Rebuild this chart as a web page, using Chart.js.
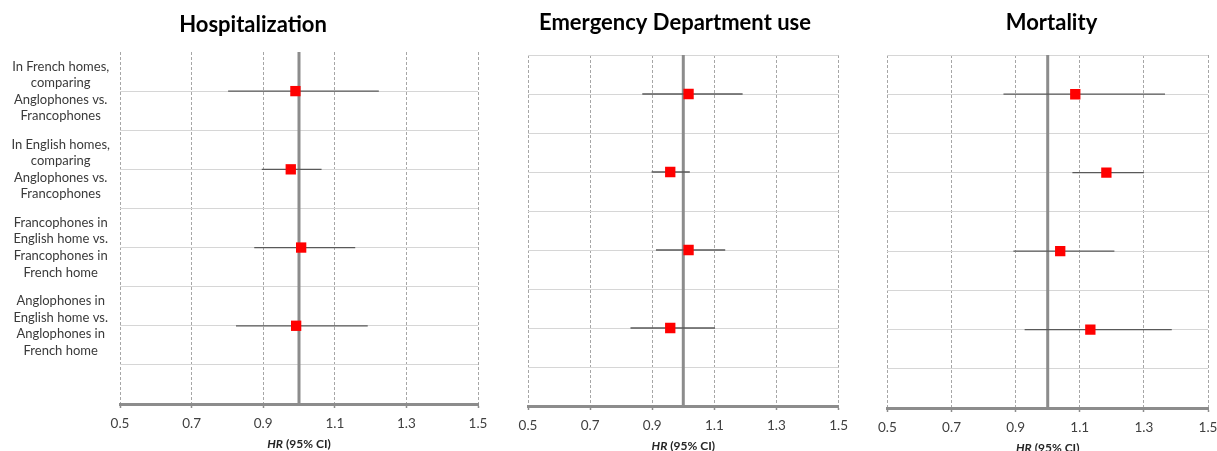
<!DOCTYPE html>
<html lang="en">
<head>
  <meta charset="UTF-8" />
  <title>Forest plots</title>
  <script src="https://cdn.jsdelivr.net/npm/chart.js"></script>
  <style>
    html, body { margin: 0; padding: 0; background: #fff; overflow: hidden; }
    .panel { position: absolute; top: 0; height: 451px; }
  </style>
</head>
<body>
  <div class="panel" id="p1" style="left:0px;width:506px;"><canvas id="chartHosp"></canvas></div>
  <div class="panel" id="p2" style="left:494px;width:362px;"><canvas id="chartED"></canvas></div>
  <div class="panel" id="p3" style="left:870px;width:363px;"><canvas id="chartMort"></canvas></div>

<script>
  // rows of the plot (y positions on a 0..9 scale, top to bottom)
  var rowPos = [1, 3, 5, 7];
  var comparisons = [
    ['In French homes,', 'comparing', 'Anglophones vs.', 'Francophones'],
    ['In English homes,', 'comparing', 'Anglophones vs.', 'Francophones'],
    ['Francophones in', 'English home vs.', 'Francophones in', 'French home'],
    ['Anglophones in', 'English home vs.', 'Anglophones in', 'French home']
  ];

  // hazard ratios and 95% CI
  var hospHR = [0.990, 0.977, 1.006, 0.992];
  var hospLo = [0.802, 0.896, 0.875, 0.824];
  var hospHi = [1.223, 1.063, 1.157, 1.192];

  var edHR = [1.017, 0.958, 1.017, 0.958];
  var edLo = [0.868, 0.898, 0.912, 0.830];
  var edHi = [1.191, 1.021, 1.135, 1.102];

  var mortHR = [1.086, 1.183, 1.039, 1.133];
  var mortLo = [0.862, 1.077, 0.893, 0.928];
  var mortHi = [1.366, 1.300, 1.208, 1.387];

  var xTicks = [0.5, 0.7, 0.9, 1.1, 1.3, 1.5];
  var rowTicks = [0, 1, 2, 3, 4, 5, 6, 7, 8, 9];
  var refHR = 1;
  var xTitle = ['HR', ' (95% CI)'];

  Chart.defaults.font.family = 'Lato, "Open Sans", sans-serif';
  Chart.defaults.color = '#404040';

  // "HR (95% CI)" with HR in italics, drawn under the x axis
  var axisCaption = {
    id: 'axisCaption',
    afterDraw: function (chart) {
      var ctx = chart.ctx, area = chart.chartArea;
      var cx = (area.left + area.right) / 2;
      var y = area.bottom + 40;
      var f1 = 'italic bold 12px Lato', f2 = 'bold 12px Lato';
      ctx.save();
      ctx.fillStyle = '#262626';
      ctx.textBaseline = 'middle';
      ctx.textAlign = 'left';
      ctx.font = f1;
      var w1 = ctx.measureText(xTitle[0]).width;
      ctx.font = f2;
      var w2 = ctx.measureText(xTitle[1]).width;
      var x = cx - (w1 + w2) / 2;
      ctx.font = f1;
      ctx.fillText(xTitle[0], x, y);
      ctx.font = f2;
      ctx.fillText(xTitle[1], x + w1, y);
      ctx.restore();
    }
  };

  function makePanel(canvasId, title, hr, lo, hi, box) {
    var datasets = [];

    // point estimates (drawn on top)
    datasets.push({
      data: hr.map(function (v, i) { return { x: v, y: rowPos[i] }; }),
      pointStyle: 'rect',
      pointRadius: 7.3,
      pointHoverRadius: 7.3,
      backgroundColor: '#ff0000',
      borderWidth: 0,
      order: 0
    });

    // confidence intervals
    rowPos.forEach(function (r, i) {
      datasets.push({
        data: [{ x: lo[i], y: r }, { x: hi[i], y: r }],
        showLine: true,
        borderColor: '#595959',
        borderWidth: 1.3,
        pointRadius: 0,
        order: 1
      });
    });

    // reference line at HR = 1
    datasets.push({
      data: [{ x: refHR, y: 0 }, { x: refHR, y: 9 }],
      showLine: true,
      borderColor: '#8c8c8c',
      borderWidth: 3,
      pointRadius: 0,
      order: 2
    });

    var ctx = document.getElementById(canvasId).getContext('2d');
    return new Chart(ctx, {
      type: 'scatter',
      data: { datasets: datasets },
      plugins: [axisCaption],
      options: {
        responsive: true,
        maintainAspectRatio: false,
        animation: false,
        layout: { padding: 0 },
        plugins: {
          legend: { display: false },
          tooltip: { enabled: false },
          title: {
            display: true,
            text: title,
            color: '#000',
            font: { size: 22, weight: 'bold' },
            padding: { top: box.titleTop, bottom: box.titleBottom }
          }
        },
        scales: {
          x: {
            type: 'linear',
            min: 0.5,
            max: 1.5,
            afterBuildTicks: function (s) { s.ticks = xTicks.map(function (v) { return { value: v }; }); },
            afterFit: function (s) { s.height = 451 - box.plotBottom; },
            ticks: {
              font: { size: 13.5 },
              color: '#404040',
              padding: 8,
              maxRotation: 0,
              callback: function (v) { return v.toFixed(1); }
            },
            grid: {
              color: '#a6a6a6',
              lineWidth: 1,
              tickLength: 4,
              tickColor: '#8c8c8c',
              tickWidth: 1.5
            },
            border: { display: true, color: '#8c8c8c', width: 3, dash: [3, 2] }
          },
          y: {
            type: 'linear',
            min: 0,
            max: 9,
            reverse: true,
            afterBuildTicks: function (s) { s.ticks = rowTicks.map(function (v) { return { value: v }; }); },
            afterFit: function (s) { s.width = box.yWidth; },
            ticks: {
              display: box.showLabels,
              font: { size: 13, lineHeight: 1.27 },
              color: '#3a3a3a',
              padding: 10,
              crossAlign: 'center',
              autoSkip: false,
              callback: function (v) {
                var i = rowPos.indexOf(v);
                return i >= 0 ? comparisons[i] : '';
              }
            },
            grid: {
              drawTicks: false,
              lineWidth: 1,
              color: function (c) {
                if (c.tick && c.tick.value === 0 && !box.topLine) return 'rgba(0,0,0,0)';
                return '#d6d6d6';
              }
            },
            border: { display: false }
          },
          // empty axis on the right, only reserves space so the title stays centred on the canvas
          yRight: {
            type: 'linear',
            position: 'right',
            min: 0,
            max: 1,
            afterFit: function (s) { s.width = box.rightWidth; },
            ticks: { display: false },
            grid: { display: false, drawTicks: false },
            border: { display: false }
          }
        }
      }
    });
  }

  var chartHosp = makePanel('chartHosp', 'Hospitalization', hospHR, hospLo, hospHi,
    { yWidth: 120, rightWidth: 28, showLabels: true, topLine: false, titleTop: 12, titleBottom: 13.6, plotBottom: 404 });
  var chartED = makePanel('chartED', 'Emergency Department use', edHR, edLo, edHi,
    { yWidth: 34, rightWidth: 14, showLabels: false, topLine: true, titleTop: 10, titleBottom: 18.6, plotBottom: 406 });
  var chartMort = makePanel('chartMort', 'Mortality', mortHR, mortLo, mortHi,
    { yWidth: 16, rightWidth: 25, showLabels: false, topLine: true, titleTop: 10, titleBottom: 18.6, plotBottom: 408 });
</script>
</body>
</html>
